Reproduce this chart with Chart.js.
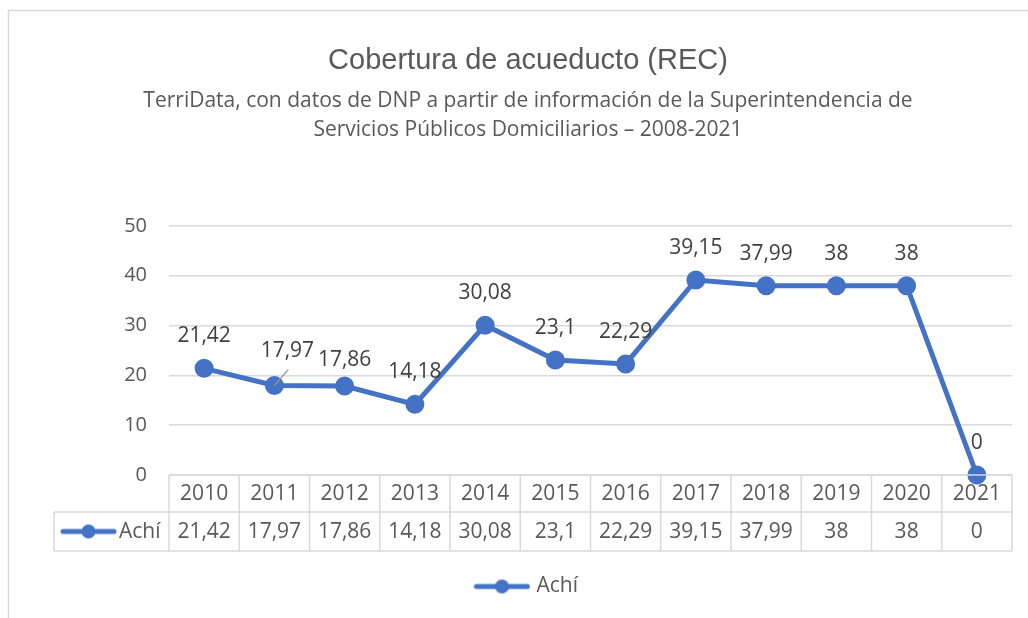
<!DOCTYPE html>
<html>
<head>
<meta charset="utf-8">
<script src="https://cdn.jsdelivr.net/npm/chart.js@4.4.1/dist/chart.umd.min.js"></script>
<style>
  html, body { margin: 0; padding: 0; background: #ffffff; }
  #wrap { width: 1028px; height: 618px; position: relative; }
</style>
</head>
<body>
<div id="wrap"><canvas id="c" width="1028" height="618"></canvas></div>
<script>
// ---- data ----
const years = ['2010','2011','2012','2013','2014','2015','2016','2017','2018','2019','2020','2021'];
const achiValues = [21.42, 17.97, 17.86, 14.18, 30.08, 23.1, 22.29, 39.15, 37.99, 38, 38, 0];
const seriesName = 'Achí';
const yTicks = [0, 10, 20, 30, 40, 50];
const titleText = 'Cobertura de acueducto (REC)';
const subtitleLines = [
  'TerriData, con datos de DNP a partir de información de la Superintendencia de',
  'Servicios Públicos Domiciliarios – 2008-2021'
];

// ---- styles ----
const BLUE = '#4472C4';
const GRID = '#d9d9d9';
const TXT = '#595959';
const LBL = '#404040';
const FONT = "'Open Sans', 'DejaVu Sans', sans-serif";

const fmt = v => String(v).replace('.', ',');

function makeMarker(w, h) {
  const c = document.createElement('canvas');
  c.width = w; c.height = h;
  const g = c.getContext('2d');
  g.strokeStyle = BLUE; g.lineWidth = 5; g.lineCap = 'round';
  g.beginPath(); g.moveTo(3, h / 2); g.lineTo(w - 3, h / 2); g.stroke();
  g.fillStyle = BLUE;
  g.beginPath(); g.arc(w / 2, h / 2, 7, 0, Math.PI * 2); g.fill();
  return c;
}
const marker = makeMarker(57, 16);

// label adjustments (Excel-like placement)
const labelShift = { 1: { dx: 13, dy: -34, leader: true }, 2: { dx: 0, dy: -26 } };

const frame = {
  id: 'frame',
  beforeDraw(chart) {
    const ctx = chart.ctx;
    ctx.save();
    ctx.strokeStyle = GRID; ctx.lineWidth = 1.5;
    ctx.beginPath();
    ctx.moveTo(8.5, 640); ctx.lineTo(8.5, 10.5); ctx.lineTo(1040, 10.5);
    ctx.stroke();
    ctx.restore();
  }
};

const dataTable = {
  id: 'dataTable',
  afterDraw(chart) {
    const ctx = chart.ctx;
    const xs = chart.scales.x;
    const area = chart.chartArea;
    const n = years.length;
    const top = area.bottom;
    const mid = top + 37;
    const bot = mid + 39;
    const leftOuter = 54;
    const bounds = [];
    for (let i = 0; i <= n; i++) {
      if (i === 0) bounds.push(area.left);
      else if (i === n) bounds.push(area.right);
      else bounds.push((xs.getPixelForTick(i - 1) + xs.getPixelForTick(i)) / 2);
    }
    ctx.save();
    ctx.strokeStyle = GRID; ctx.lineWidth = 1.5;
    ctx.beginPath();
    ctx.moveTo(area.left, top); ctx.lineTo(area.right, top);
    ctx.moveTo(leftOuter, mid); ctx.lineTo(area.right, mid);
    ctx.moveTo(leftOuter, bot); ctx.lineTo(area.right, bot);
    ctx.moveTo(leftOuter, mid); ctx.lineTo(leftOuter, bot);
    bounds.forEach(b => { ctx.moveTo(b, top); ctx.lineTo(b, bot); });
    ctx.stroke();

    ctx.fillStyle = TXT;
    ctx.font = '21px ' + FONT;
    ctx.textAlign = 'center'; ctx.textBaseline = 'middle';
    for (let i = 0; i < n; i++) {
      const cx = xs.getPixelForTick(i);
      ctx.fillText(years[i], cx, (top + mid) / 2 + 1);
      ctx.fillText(fmt(achiValues[i]), cx, (mid + bot) / 2 + 1);
    }
    ctx.drawImage(marker, 60, (mid + bot) / 2 - 8);
    ctx.textAlign = 'left';
    ctx.fillText(seriesName, 119, (mid + bot) / 2 + 1);
    ctx.restore();
  }
};

const dataLabels = {
  id: 'dataLabels',
  afterDatasetsDraw(chart) {
    const ctx = chart.ctx;
    const meta = chart.getDatasetMeta(0);
    ctx.save();
    ctx.font = '21px ' + FONT;
    ctx.fillStyle = LBL;
    ctx.textAlign = 'center'; ctx.textBaseline = 'middle';
    meta.data.forEach((pt, i) => {
      const s = labelShift[i] || { dx: 0, dy: -32 };
      const lx = pt.x + s.dx, ly = pt.y + s.dy;
      if (s.leader) {
        ctx.save();
        ctx.strokeStyle = '#999999'; ctx.lineWidth = 1.2;
        ctx.beginPath(); ctx.moveTo(pt.x, pt.y); ctx.lineTo(pt.x + 14, pt.y - 16); ctx.stroke();
        ctx.restore();
      }
      ctx.fillText(fmt(achiValues[i]), lx, ly);
    });
    ctx.restore();
  }
};

new Chart(document.getElementById('c'), {
  type: 'line',
  data: {
    labels: years,
    datasets: [{
      label: seriesName,
      data: achiValues,
      borderColor: BLUE,
      backgroundColor: BLUE,
      borderWidth: 5,
      pointRadius: 7,
      pointHoverRadius: 7,
      pointBackgroundColor: BLUE,
      pointBorderColor: BLUE,
      tension: 0,
      clip: false
    }]
  },
  options: {
    responsive: false,
    animation: false,
    events: [],
    layout: { padding: { left: 44, right: 16, top: 0, bottom: 11 } },
    scales: {
      x: {
        type: 'category',
        offset: true,
        grid: { display: false, drawTicks: false },
        border: { display: false },
        ticks: { display: false },
        afterFit: s => { s.height = 91; }
      },
      y: {
        min: 0, max: 50,
        afterBuildTicks: s => { s.ticks = yTicks.map(v => ({ value: v })); },
        grid: { color: GRID, lineWidth: 1.5, drawTicks: false },
        border: { display: false },
        ticks: { color: TXT, font: { family: FONT, size: 20 }, padding: 22 },
        afterFit: s => { s.width = 125; }
      }
    },
    plugins: {
      title: {
        display: true,
        text: titleText,
        color: TXT,
        font: { family: "'Liberation Sans', Arial, sans-serif", size: 29, weight: 'normal', lineHeight: 1.0 },
        padding: { top: 46, bottom: 12 }
      },
      subtitle: {
        display: true,
        text: subtitleLines,
        color: TXT,
        font: { family: FONT, size: 21, lineHeight: 1.38 },
        padding: { top: 0, bottom: 81 }
      },
      legend: {
        display: true,
        position: 'bottom',
        labels: {
          usePointStyle: true,
          pointStyle: marker,
          pointStyleWidth: 48,
          color: TXT,
          font: { family: FONT, size: 21 },
          padding: 10
        }
      },
      tooltip: { enabled: false }
    }
  },
  plugins: [frame, dataLabels, dataTable]
});
</script>
</body>
</html>
